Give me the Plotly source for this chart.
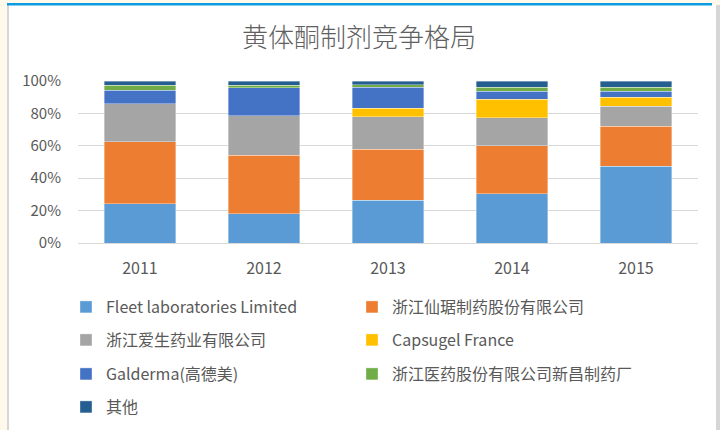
import plotly.graph_objects as go

# ---- data (shares in %) ----
years = ["2011", "2012", "2013", "2014", "2015"]
series_names = [
    "Fleet laboratories Limited",
    "浙江仙琚制药股份有限公司",
    "浙江爱生药业有限公司",
    "Capsugel France",
    "Galderma(高德美)",
    "浙江医药股份有限公司新昌制药厂",
    "其他",
]
fleet = [24.1, 18.1, 26.5, 30.5, 47.5]
xianju = [38.5, 36.2, 31.3, 29.6, 24.5]
aisheng = [23.4, 24.1, 20.0, 17.1, 12.4]
capsugel = [0.0, 0.0, 5.3, 11.5, 5.6]
galderma = [8.3, 17.3, 13.0, 4.9, 3.6]
xinchang = [3.0, 1.6, 1.7, 2.5, 2.5]
others = [2.7, 2.7, 2.2, 3.9, 3.9]
y_ticks = [0, 20, 40, 60, 80, 100]
y_tick_labels = [f"{v}%" for v in y_ticks]
title_text = "黄体酮制剂竞争格局"

series_values = [fleet, xianju, aisheng, capsugel, galderma, xinchang, others]
colors = ["#5B9BD5", "#ED7D31", "#A5A5A5", "#FFC000", "#4472C4", "#70AD47", "#255E91"]

W, H = 720, 430
ML, MR, MT, MB = 78, 22, 81, 187
PW, PH = W - ML - MR, H - MT - MB

def px_x(px):
    return (px - ML) / PW

def px_y(py):
    return (H - MB - py) / PH

FONT = "Noto Sans CJK SC, Noto Sans, sans-serif"
BG = "#FFF9EC"

fig = go.Figure()
legend_ids = ["legend", "legend2", "legend3", "legend4", "legend5", "legend6", "legend7"]
for name, vals, col, lid in zip(series_names, series_values, colors, legend_ids):
    fig.add_trace(go.Bar(
        x=years, y=vals, name=name,
        marker=dict(color=col, line=dict(color="rgba(255,255,255,0.6)", width=0.6)),
        legend=lid,
    ))

# legend positions (item origin px, row centre px)
col_x = [66, 352]
row_y = [307, 340, 374, 407]
legend_layouts = {}
for i, lid in enumerate(legend_ids):
    cx = col_x[i % 2]
    ry = row_y[i // 2]
    legend_layouts[lid] = dict(
        x=px_x(cx), y=px_y(ry), xanchor="left", yanchor="middle",
        orientation="h", bgcolor="rgba(0,0,0,0)",
        font=dict(family=FONT, size=16, color="#595959"),
    )

shapes = [
    # white panel
    dict(type="rect", xref="paper", yref="paper", layer="below",
         x0=px_x(9), x1=px_x(716), y0=px_y(5), y1=px_y(432),
         fillcolor="white", line=dict(width=0)),
    # left gray border
    dict(type="rect", xref="paper", yref="paper", layer="below",
         x0=px_x(7), x1=px_x(9), y0=px_y(5), y1=px_y(432),
         fillcolor="#D6D6D6", line=dict(width=0)),
    # right gray border
    dict(type="rect", xref="paper", yref="paper", layer="below",
         x0=px_x(716), x1=px_x(720), y0=px_y(5), y1=px_y(432),
         fillcolor="#D6D6D6", line=dict(width=0)),
    # top blue line
    dict(type="rect", xref="paper", yref="paper", layer="below",
         x0=px_x(7), x1=px_x(712), y0=px_y(3), y1=px_y(5.5),
         fillcolor="#0E9CE0", line=dict(width=0)),
]

fig.update_layout(
    width=W, height=H,
    margin=dict(l=ML, r=MR, t=MT, b=MB, pad=0, autoexpand=False),
    paper_bgcolor=BG,
    plot_bgcolor="white",
    barmode="stack",
    bargap=0.427,
    title=dict(text=title_text, x=359 / W, xanchor="center", y=1 - 38 / H, yanchor="middle",
               xref="container", yref="container",
               font=dict(family=FONT, size=26, color="#606060", weight=300)),
    xaxis=dict(type="category", showgrid=False, showline=False, zeroline=False,
               ticks="", tickfont=dict(family=FONT, size=16, color="#595959"),
               ticklabelstandoff=14, automargin=False),
    yaxis=dict(range=[0, 100], tickmode="array", tickvals=y_ticks, ticktext=y_tick_labels,
               showgrid=True, gridcolor="#D9D9D9", gridwidth=1.2,
               zeroline=True, zerolinecolor="#D9D9D9", zerolinewidth=1.2,
               showline=False, ticks="", automargin=False,
               tickfont=dict(family=FONT, size=15, color="#595959"),
               ticklabelstandoff=16),
    shapes=shapes,
    showlegend=True,
    **legend_layouts,
)

fig.write_html(
    "out.html",
    config={"displayModeBar": False},
    post_script=f"document.body.style.margin='0';document.body.style.background='{BG}';",
)
